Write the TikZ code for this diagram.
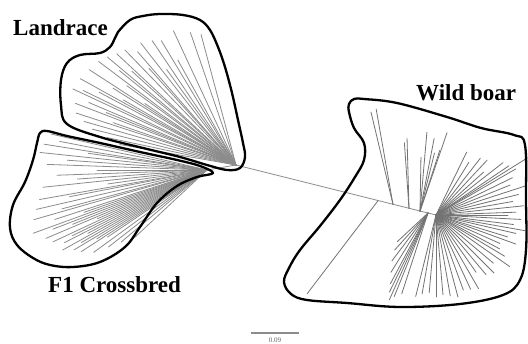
\documentclass[tikz,border=0pt]{standalone}
\usepackage{fontspec}
\setmainfont{Liberation Serif}
\begin{document}
\begin{tikzpicture}[x=1pt,y=-1pt,
  outline/.style={line width=2.3pt, line join=round, draw=black},
  branch/.style={draw=black!45, line width=0.8pt, line cap=round},
  wbranch/.style={draw=black!55, line width=0.8pt, line cap=round},
  label/.style={font=\fontsize{23}{26}\selectfont\bfseries, inner sep=0pt, anchor=base west},
]
\useasboundingbox (0,0) rectangle (528,344);
\fill[white] (0,0) rectangle (528,344);

% ---------- tree coordinates ----------
\coordinate (R) at (236,165);
\coordinate (F) at (207,170);
\coordinate (W) at (436,215);
\coordinate (B1) at (378,200.7);
\coordinate (B2) at (393,204.5);
\coordinate (B3) at (409,208.5);
\coordinate (B4) at (420,211.2);
\coordinate (B5) at (428,213);

% ---------- Landrace fan ----------
\foreach \a/\l in {105/135,109/140,115/148,119/120,121/145,124/150,126/118,
  128/155,131/150,132/130,134/160,137/163,138/140,140/168,141/150,
  143/172,144/135,146/110,147/175,148/145,150/130,151/178,152/155,
  154/170,155/180,157/160,158/140,159/172,161/130,162/168,164/158,
  166/148,168/132,170/118}
  \draw[branch] (R) -- ++(\a:\l pt);

% ---------- F1 fan ----------
\draw[branch] (R) -- (F);
\foreach \a/\l in {167/160,169/150,171/165,172/120,174/168,176/140,178/160,180/110,182/150,
  184/130,186/165,188/100,190/170,191/140,193/175,195/150,196/180,198/160,199/130,200/185,
  201/165,202/145,203/175,204/120,205/170,206/150,207/160,208/135,209/165,210/145,211/155,
  212/130,213/150,214/120,216/140,218/125,220/112,223/100}
  \draw[branch] (F) -- ++(\a:\l pt);

% ---------- long branch to wild boar ----------
\draw[branch] (R) -- (W);
\draw[wbranch] (B1) -- ++(-127.3:117pt);
\draw[wbranch] (B2) -- ++(103.4:95pt);
\draw[wbranch] (B2) -- ++(100:97pt);
\draw[wbranch] (B3) -- ++(91.6:70pt);
\draw[wbranch] (B3) -- ++(94:66pt);
\foreach \a/\l in {89/54,85/79,79/74,71/83,72/64,76/60}
  \draw[wbranch] (B4) -- ++(\a:\l pt);
\foreach \a/\l in {64/70,58/62,52/72,47/75,42/64,38/85,34/88,30/92,32/108,26/85,22/80,
  18/95,14/85,10/78,6/88,2/80,0/72,-3/85,-7/78,-10/90,-13/82,-17/75,-20/85,-24/70,-28/72,
  -31/80,-35/90,-40/75,-45/82,-50/78,-55/70,-60/85,-65/82,-70/80,-75/85,-80/82,-85/80,
  -90/82,-95/78,-100/80,-104/84}
  \draw[wbranch] (W) -- ++(\a:\l pt);
\foreach \a/\l in {-108/85,-112/90,-114/95,-116/88,-118/80,-122/70,-127/60,-132/50,-137/42}
  \draw[wbranch] (B5) -- ++(\a:\l pt);

% ---------- outlines ----------
\draw[outline] plot[smooth cycle, tension=0.6] coordinates {
  (118,32) (130,20) (143,16) (160,14) (183,15) (200,20) (210,30) (218,47) (225,67)
  (232,93) (238,120) (243,143) (245,157) (240,168) (227,170) (207,165) (180,157)
  (143,148) (100,137) (67,124) (61,105) (61,80) (67,63) (80,55) (100,53) (110,47) (115,38)};
\draw[outline] plot[smooth cycle, tension=0.6] coordinates {
  (40,133) (47,131) (67,136) (100,143) (140,152) (177,160) (200,166) (213,173) (197,177)
  (177,186) (157,203) (140,227) (125,247) (100,262) (73,267) (50,265) (33,258) (17,245)
  (10,228) (13,205) (25,182) (33,160) (37,143)};
\draw[outline] plot[smooth cycle, tension=0.6] coordinates {
  (354,99) (364,99) (397,103) (447,117) (481,128) (514,135) (525,145) (526,200) (526,250)
  (520,280) (503,295) (460,304) (400,307) (347,303) (307,300) (291,294) (284,282) (289,268)
  (300,250) (320,226) (340,200) (355,177) (364,160) (364,143) (354,128) (349,112) (349,104)};

% ---------- labels ----------
\node[label] (lland) at (13,36) {Landrace};
\node[label] (lwild) at (416,101) {Wild boar};
\node[label] (lf1) at (48,293) {F1 Crossbred};

% ---------- scale bar ----------
\coordinate (s1) at (251,333);
\coordinate (s2) at (299,333);
\draw[draw=black!45, line width=1.2pt] (s1) -- (s2);
\node[font=\fontsize{7}{8}\selectfont, text=black!60, inner sep=0pt] (lscale) at (275,340) {0.09};
\end{tikzpicture}
\end{document}
